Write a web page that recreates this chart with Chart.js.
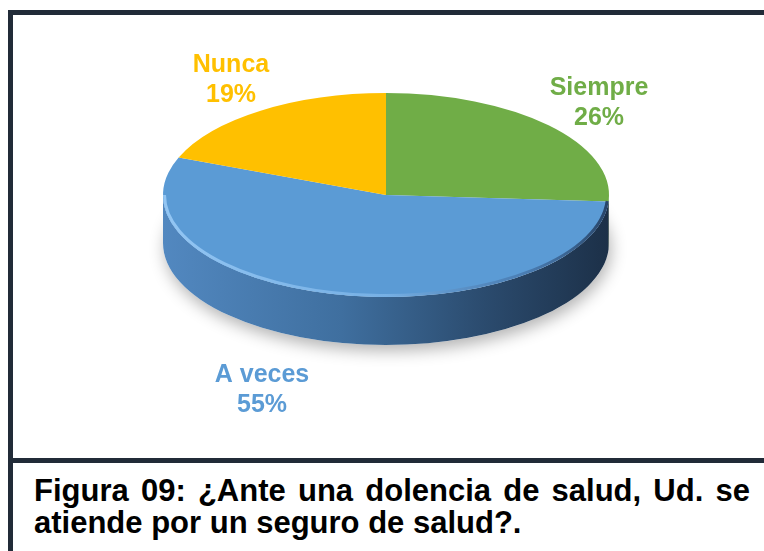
<!DOCTYPE html>
<html>
<head>
<meta charset="utf-8">
<script src="https://cdn.jsdelivr.net/npm/chart.js@4/dist/chart.umd.min.js"></script>
<style>
html,body{margin:0;padding:0;background:#fff;width:764px;height:551px;overflow:hidden;}
#frame{position:absolute;left:8px;top:10px;width:820px;height:620px;border-left:5px solid #212b38;border-top:5px solid #212b38;box-sizing:border-box;}
#sep{position:absolute;left:8px;top:458px;width:820px;height:5px;background:#212b38;}
#cap{position:absolute;left:34px;top:475px;width:716px;font:bold 31px "Liberation Sans",Arial,sans-serif;color:#000;line-height:32px;}
#cap .l1{text-align:justify;text-align-last:justify;white-space:nowrap;}
#cap .l2{text-align:left;white-space:nowrap;}
#c{position:absolute;left:0;top:0;}
</style>
</head>
<body>
<div id="frame"></div>
<div id="sep"></div>
<div id="cap"><div class="l1">Figura 09: ¿Ante una dolencia de salud, Ud. se</div><div class="l2">atiende por un seguro de salud?.</div></div>
<canvas id="c" width="764" height="551"></canvas>
<script>
// ---- data ----
const categories = ['Siempre', 'A veces', 'Nunca'];
const percentages = [26, 55, 19];

// ---- styles ----
const sliceColors = ['#70ad47', '#5b9bd5', '#ffc000'];
const labelColors = ['#70ad47', '#5b9bd5', '#ffc000'];

const pie3d = {
  id: 'pie3d',
  beforeDatasetsDraw(chart, args, opts) {
    const ctx = chart.ctx;
    const arcs = chart.getDatasetMeta(0).data;
    const R = arcs[0].outerRadius, ox = arcs[0].x, oy = arcs[0].y;
    const {cx, cy, rx, ry, depth} = opts;
    ctx.save();
    // soft shadow under the pie
    ctx.save();
    ctx.shadowColor = 'rgba(0,0,0,0.30)';
    ctx.shadowBlur = 16;
    ctx.shadowOffsetY = 6;
    ctx.shadowOffsetX = 2;
    ctx.beginPath();
    ctx.ellipse(cx, cy + depth, rx, ry, 0, 0, Math.PI * 2);
    ctx.fillStyle = '#ffffff';
    ctx.fill();
    ctx.restore();
    // side walls (front half only)
    arcs.forEach((arc, i) => {
      [[0, Math.PI], [2 * Math.PI, 3 * Math.PI]].forEach(([lo, hi]) => {
        const a = Math.max(arc.startAngle, lo), b = Math.min(arc.endAngle, hi);
        if (b <= a) return;
        const off = lo > 0 ? 2 * Math.PI : 0;
        ctx.beginPath();
        ctx.ellipse(cx, cy, rx, ry, 0, a - off, b - off);
        ctx.ellipse(cx, cy + depth, rx, ry, 0, b - off, a - off, true);
        ctx.closePath();
        const g = ctx.createLinearGradient(cx - rx, 0, cx + rx, 0);
        opts.sideStops[i].forEach(s => g.addColorStop(s[0], s[1]));
        ctx.fillStyle = g;
        ctx.fill();
      });
    });
    // top face transform
    ctx.translate(cx, cy);
    ctx.scale(rx / R, ry / R);
    ctx.translate(-ox, -oy);
  },
  afterDatasetsDraw(chart, args, opts) {
    const ctx = chart.ctx;
    ctx.restore();
    const {cx, cy, rx, ry} = opts;
    // rim highlight / bevel
    ctx.save();
    const g = ctx.createLinearGradient(cx - rx, 0, cx + rx, 0);
    g.addColorStop(0, 'rgba(150,200,245,0.95)');
    g.addColorStop(0.5, 'rgba(130,185,235,0.7)');
    g.addColorStop(0.8, 'rgba(60,100,150,0.5)');
    g.addColorStop(1, 'rgba(25,45,75,0.8)');
    ctx.strokeStyle = g;
    ctx.lineWidth = 3;
    ctx.beginPath();
    ctx.ellipse(cx, cy, rx - 1.5, ry - 1.5, 0, 0.06, Math.PI);
    ctx.stroke();
    ctx.restore();
  },
  afterDraw(chart, args, opts) {
    const ctx = chart.ctx;
    ctx.save();
    ctx.font = 'bold 25px "Liberation Sans", Arial, sans-serif';
    ctx.textAlign = 'center';
    ctx.textBaseline = 'alphabetic';
    categories.forEach((name, i) => {
      const p = opts.labelPos[i];
      ctx.fillStyle = labelColors[i];
      ctx.fillText(name, p[0], p[1]);
      ctx.fillText(percentages[i] + '%', p[0], p[1] + 30);
    });
    ctx.restore();
  }
};

new Chart(document.getElementById('c'), {
  type: 'pie',
  data: {
    labels: categories,
    datasets: [{
      data: percentages,
      backgroundColor: sliceColors,
      borderWidth: 0
    }]
  },
  options: {
    responsive: false,
    animation: false,
    events: [],
    plugins: {
      legend: {display: false},
      tooltip: {enabled: false},
      pie3d: {
        cx: 386, cy: 195, rx: 223, ry: 102, depth: 48,
        sideStops: [
          [[0, '#4d7a32'], [1, '#2f4d1c']],
          [[0, '#5288c0'], [0.4, '#3f6f9f'], [0.72, '#2b4b6e'], [1, '#1c3048']],
          [[0, '#c99600'], [1, '#8a6600']]
        ],
        labelPos: [[599, 95], [262, 382], [231, 72]]
      }
    }
  },
  plugins: [pie3d]
});
</script>
</body>
</html>
